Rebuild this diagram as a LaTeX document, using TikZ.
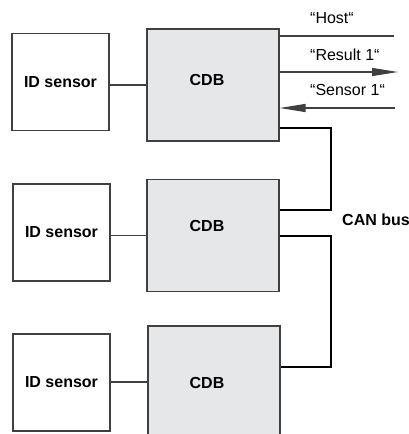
\documentclass[tikz,border=0pt]{standalone}
\usepackage{fontspec}
\setmainfont{Liberation Sans}
\usetikzlibrary{arrows.meta}
\definecolor{boxgray}{HTML}{E6E7E9}
\definecolor{linegray}{HTML}{404040}
\tikzset{
  sensorbox/.style={draw=linegray,line width=1.2pt,minimum width=97pt,minimum height=97pt,
    font=\fontsize{16}{19}\selectfont\bfseries,inner sep=0pt},
  cdbbox/.style={draw=linegray,line width=1.2pt,fill=boxgray,minimum width=132pt,minimum height=112pt,inner sep=0pt},
  cdbtext/.style={font=\fontsize{16}{19}\selectfont\bfseries,inner sep=0pt},
  msgtext/.style={font=\fontsize{16}{19}\selectfont,anchor=base west,inner sep=0pt},
  wire/.style={linegray,line width=1.2pt},
  bus/.style={black,line width=2.6pt},
  msgarrow/.style={wire,-{Triangle[length=26pt,width=8pt]}}
}
\begin{document}
\begin{tikzpicture}[x=1pt,y=-1pt]
  \useasboundingbox (0,0) rectangle (409,434);
  \clip (0,0) rectangle (409,434);
  % ====== sensors and CDB boxes ======
  \node[sensorbox] (id1) at (60.5,82) {ID sensor};
  \node[sensorbox] (id2) at (61.5,232.5) {ID sensor};
  \node[sensorbox] (id3) at (61.5,382.5) {ID sensor};
  \node[cdbbox] (cdb1) at (213,85) {};
  \node[cdbbox] (cdb2) at (213,235.5) {};
  \node[cdbbox] (cdb3) at (214,382) {};
  \node[cdbtext] (c1) at (207,80) {CDB};
  \node[cdbtext] (c2) at (207,225.5) {CDB};
  \node[cdbtext] (c3) at (207,383) {CDB};
  \draw[wire] (id1.east |- cdb1.west) -- (cdb1.west);
  \draw[wire] (id2.east |- cdb2.west) -- (cdb2.west);
  \draw[wire] (id3.east |- cdb3.west) -- (cdb3.west);

  % ====== host messages ======
  \coordinate (hostend) at (394,36);
  \coordinate (resend) at (398,72);
  \coordinate (sensend) at (395,108);
  \draw[wire] (cdb1.east |- hostend) -- (hostend);
  \draw[msgarrow] (cdb1.east |- resend) -- (resend);
  \draw[msgarrow] (sensend) -- (cdb1.east |- sensend);
  \node[msgtext] (host) at (310,23) {“Host“};
  \node[msgtext] (res) at (310,60) {“Result 1“};
  \node[msgtext] (sens) at (310,95) {“Sensor 1“};

  % ====== CAN bus ======
  \coordinate (b1) at (331,128);
  \coordinate (b2) at (331,210);
  \coordinate (b3) at (331,236);
  \coordinate (b4) at (331,367);
  \draw[bus] (cdb1.east |- b1) -- (b1) -- (b2) -- (cdb2.east |- b2);
  \draw[bus] (cdb2.east |- b3) -- (b3) -- (b4) -- (cdb3.east |- b4);
  \node[cdbtext,anchor=base west] (can) at (342,225) {CAN bus};
\end{tikzpicture}
\end{document}
